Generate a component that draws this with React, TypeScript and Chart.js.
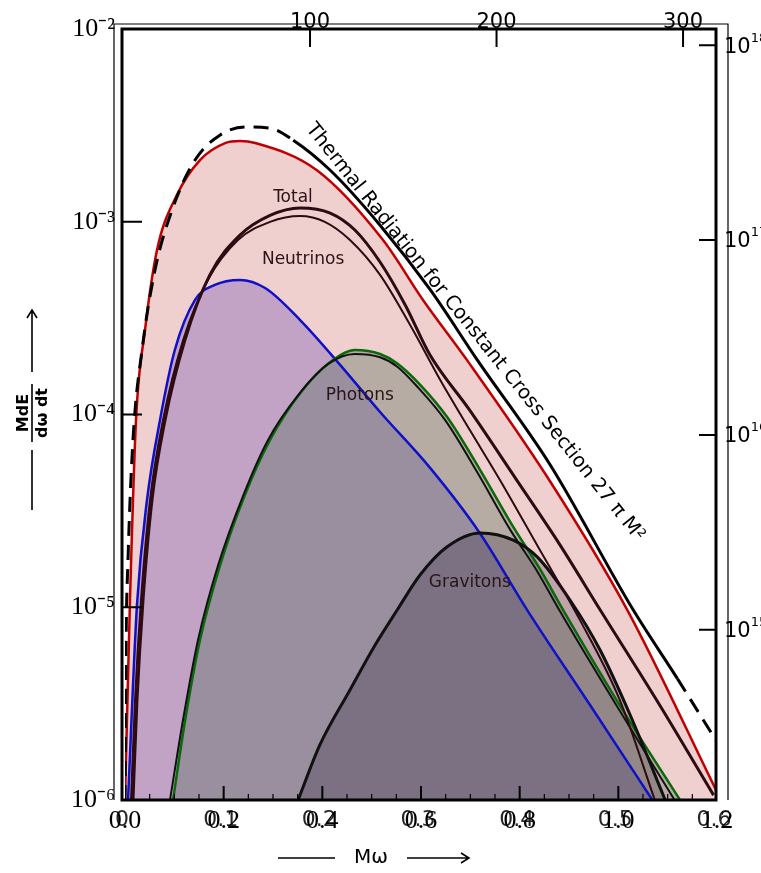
import React, { useEffect, useRef } from 'react';
import { Chart, registerables } from 'chart.js';
Chart.register(...registerables);

// ---- axes ----
const X_TICKS = [0, 0.2, 0.4, 0.6, 0.8, 1.0, 1.2];
const X_SCAN_LABELS = ['0', '0.1', '0.2', '0.3', '0.4', '0.5', '0.6'];
const X_MINOR = [0.05, 0.1, 0.15, 0.25, 0.3, 0.35, 0.45, 0.5, 0.55, 0.65, 0.7, 0.75, 0.85, 0.9, 0.95, 1.05, 1.1, 1.15];
const X_MAJOR_INNER = [0.2, 0.4, 0.6, 0.8, 1.0];
const Y_TICKS = [1e-6, 1e-5, 1e-4, 1e-3, 1e-2];
const Y_TICK_LABELS = ['10⁻⁶', '10⁻⁵', '10⁻⁴', '10⁻³', '10⁻²'];
const Y_INNER_TICKS = [1e-5, 1e-4, 1e-3];
const TOP_TICKS = [100, 200, 300];
const RIGHT_TICKS = [1e15, 1e16, 1e17, 1e18];
const RIGHT_EXP = ['15', '16', '17', '18'];

// ---- series (x = Mω axis units, y = M dE/dω dt) ----
const thermalX = [0, 0.002, 0.0061, 0.0162, 0.0345, 0.0608, 0.0953, 0.142, 0.193, 0.243, 0.294, 0.341, 0.416, 0.517, 0.619, 0.714, 0.862, 1.03, 1.12, 1.2];
const thermalY = [1e-6, 6.0e-6, 1.76e-5, 7.38e-5, 2.16e-4, 5.62e-4, 1.15e-3, 2.09e-3, 2.82e-3, 3.10e-3, 3.06e-3, 2.65e-3, 1.85e-3, 9.6e-4, 4.43e-4, 1.92e-4, 5.47e-5, 9.7e-6, 4.25e-6, 2.0e-6];

const redX = [0, 0.0101, 0.0223, 0.0405, 0.0649, 0.1054, 0.152, 0.203, 0.233, 0.264, 0.389, 0.523, 0.604, 0.693, 0.856, 1.018, 1.2];
const redY = [1e-6, 1.09e-5, 9.35e-5, 2.74e-4, 7.13e-4, 1.38e-3, 2.09e-3, 2.56e-3, 2.62e-3, 2.56e-3, 1.85e-3, 8.04e-4, 3.93e-4, 1.92e-4, 4.74e-5, 9.7e-6, 1.1e-6];

const totalX = [0.0162, 0.0243, 0.0365, 0.0547, 0.0811, 0.1216, 0.172, 0.233, 0.294, 0.355, 0.416, 0.466, 0.517, 0.568, 0.618, 0.699, 0.791, 0.882, 0.963, 1.084, 1.193];
const totalY = [1e-6, 3.3e-6, 1.09e-5, 3.6e-5, 9.35e-5, 2.44e-4, 5.3e-4, 8.53e-4, 1.08e-3, 1.18e-3, 1.11e-3, 9.06e-4, 6.18e-4, 3.7e-4, 2.04e-4, 1.05e-4, 4.69e-5, 2.1e-5, 9.7e-6, 3.1e-6, 1.06e-6];

const neutrinoX = [0.0122, 0.0203, 0.0324, 0.0507, 0.077, 0.118, 0.168, 0.229, 0.294, 0.355, 0.405, 0.456, 0.517, 0.578, 0.639, 0.699, 0.76, 0.841, 0.922, 1.003, 1.074];
const neutrinoY = [1e-6, 3.3e-6, 1.09e-5, 3.6e-5, 9.35e-5, 2.44e-4, 4.99e-4, 8.04e-4, 9.98e-4, 1.07e-3, 9.98e-4, 8.04e-4, 5.3e-4, 2.91e-4, 1.51e-4, 8.3e-5, 4.57e-5, 1.98e-5, 8.6e-6, 3.3e-6, 1e-6];

const blueX = [0.0061, 0.0243, 0.0446, 0.0709, 0.101, 0.142, 0.182, 0.233, 0.284, 0.355, 0.436, 0.517, 0.618, 0.719, 0.815, 0.943, 1.069];
const blueY = [1e-6, 1.03e-5, 3.6e-5, 9.35e-5, 2.16e-4, 3.93e-4, 4.7e-4, 4.99e-4, 4.53e-4, 3.09e-4, 1.81e-4, 1.03e-4, 5.3e-5, 2.43e-5, 9.7e-6, 3.1e-6, 1e-6];

const greenX = [0.0973, 0.122, 0.152, 0.193, 0.243, 0.294, 0.355, 0.416, 0.466, 0.517, 0.552, 0.598, 0.653, 0.72, 0.787, 0.841, 0.888, 1.003, 1.125];
const greenY = [1e-6, 2.6e-6, 6.76e-6, 1.66e-5, 3.82e-5, 7.38e-5, 1.29e-4, 1.87e-4, 2.16e-4, 2.06e-4, 1.84e-4, 1.43e-4, 9.7e-5, 5.15e-5, 2.61e-5, 1.58e-5, 9.7e-6, 3.1e-6, 1e-6];

const photonX = [0.0912, 0.1176, 0.148, 0.189, 0.24, 0.29, 0.351, 0.412, 0.466, 0.517, 0.552, 0.594, 0.649, 0.714, 0.781, 0.836, 0.882, 0.996, 1.114];
const photonY = [1e-6, 2.6e-6, 6.76e-6, 1.66e-5, 3.82e-5, 7.38e-5, 1.26e-4, 1.83e-4, 2.06e-4, 1.98e-4, 1.77e-4, 1.38e-4, 9.35e-5, 5.02e-5, 2.52e-5, 1.53e-5, 9.5e-6, 3.1e-6, 1e-6];

const gravX = [0.351, 0.395, 0.456, 0.507, 0.552, 0.598, 0.653, 0.72, 0.787, 0.836, 0.902, 0.963, 1.024, 1.095];
const gravY = [1e-6, 1.93e-6, 3.72e-6, 6.37e-6, 9.7e-6, 1.47e-5, 2.06e-5, 2.43e-5, 2.23e-5, 1.82e-5, 1.09e-5, 6.0e-6, 2.76e-6, 1e-6];

// ---- text annotations (data coordinates) ----
const NOTES = [
  { text: 'Total', x: 0.3405, y: 1.34e-3 },
  { text: 'Neutrinos', x: 0.361, y: 6.34e-4 },
  { text: 'Photons', x: 0.476, y: 1.26e-4 },
  { text: 'Gravitons', x: 0.699, y: 1.34e-5 },
];
const THERMAL_TEXT = 'Thermal Radiation for Constant Cross Section 27 π M²';
const THERMAL_POS = { x: 0.7, y: 2.55e-4 };

const pts = (xs: number[], ys: number[]) => xs.map((x, i) => ({ x, y: ys[i] }));

const SANS = '"DejaVu Sans", "Noto Sans", sans-serif';
const SERIF = '"Liberation Serif", "Times New Roman", serif';

const overlayPlugin = {
  id: 'overlay',
  afterDatasetsDraw(chart: any) {
    const { ctx, chartArea: a, scales } = chart;
    const sx = scales.x, sy = scales.y, sx2 = scales.x2, sy2 = scales.y2;
    ctx.save();
    ctx.strokeStyle = '#000';
    ctx.fillStyle = '#000';

    // thin outer frame
    ctx.lineWidth = 1.2;
    ctx.beginPath();
    ctx.moveTo(a.left - 11, a.bottom);
    ctx.lineTo(a.left - 11, a.top - 5);
    ctx.lineTo(a.right + 11, a.top - 5);
    ctx.lineTo(a.right + 11, a.bottom);
    ctx.stroke();

    // thick frame
    ctx.lineWidth = 3;
    ctx.strokeRect(a.left - 3, a.top, a.right - a.left + 2, a.bottom - a.top);

    // inner ticks
    ctx.lineWidth = 2;
    ctx.beginPath();
    X_MAJOR_INNER.forEach((v) => {
      const px = sx.getPixelForValue(v);
      ctx.moveTo(px, a.bottom); ctx.lineTo(px, a.bottom - 14);
    });
    Y_INNER_TICKS.forEach((v) => {
      const py = sy.getPixelForValue(v);
      ctx.moveTo(a.left - 3, py); ctx.lineTo(a.left + 17, py);
    });
    TOP_TICKS.forEach((v) => {
      const px = sx2.getPixelForValue(v);
      ctx.moveTo(px, a.top); ctx.lineTo(px, a.top + 18);
    });
    RIGHT_TICKS.forEach((v) => {
      const py = sy2.getPixelForValue(v);
      ctx.moveTo(a.right, py); ctx.lineTo(a.right - 18, py);
    });
    ctx.stroke();
    ctx.lineWidth = 1.2;
    ctx.beginPath();
    X_MINOR.forEach((v) => {
      const px = sx.getPixelForValue(v);
      ctx.moveTo(px, a.bottom); ctx.lineTo(px, a.bottom - 6);
    });
    ctx.stroke();

    // top labels
    ctx.font = `21px ${SANS}`;
    ctx.textAlign = 'center';
    ctx.textBaseline = 'alphabetic';
    TOP_TICKS.forEach((v) => {
      ctx.fillText(String(v), sx2.getPixelForValue(v), a.top - 1);
    });

    // right labels
    RIGHT_TICKS.forEach((v, i) => {
      const py = sy2.getPixelForValue(v);
      ctx.textAlign = 'left';
      ctx.textBaseline = 'middle';
      ctx.font = `21px ${SANS}`;
      ctx.fillText('10', a.right + 7, py + 2);
      const w = ctx.measureText('10').width;
      ctx.font = `13px ${SANS}`;
      ctx.fillText(RIGHT_EXP[i], a.right + 7 + w, py - 7);
    });

    // scanned-style bottom labels (overprinted on the chart labels)
    ctx.font = `22px ${SANS}`;
    ctx.textAlign = 'center';
    ctx.textBaseline = 'middle';
    ctx.globalAlpha = 0.85;
    X_TICKS.forEach((v, i) => {
      ctx.fillText(X_SCAN_LABELS[i], sx.getPixelForValue(v) - 3, a.bottom + 20);
    });
    ctx.globalAlpha = 1;

    // curve annotations
    ctx.fillStyle = '#2a1418';
    ctx.font = `17px ${SANS}`;
    NOTES.forEach((n) => {
      ctx.fillText(n.text, sx.getPixelForValue(n.x), sy.getPixelForValue(n.y));
    });

    // thermal text, rotated
    ctx.fillStyle = '#000';
    const tx = sx.getPixelForValue(THERMAL_POS.x);
    const ty = sy.getPixelForValue(THERMAL_POS.y);
    ctx.save();
    ctx.translate(tx, ty);
    ctx.rotate((51.3 * Math.PI) / 180);
    let size = 20;
    ctx.font = `${size}px ${SANS}`;
    const target = 530;
    size = Math.max(12, Math.min(24, (size * target) / ctx.measureText(THERMAL_TEXT).width));
    ctx.font = `${size}px ${SANS}`;
    ctx.textAlign = 'center';
    ctx.textBaseline = 'middle';
    ctx.fillText(THERMAL_TEXT, 0, -6);
    ctx.restore();

    // bottom axis title
    const by = a.bottom + 58;
    ctx.lineWidth = 1.6;
    ctx.beginPath();
    ctx.moveTo(278, by); ctx.lineTo(335, by);
    ctx.moveTo(407, by); ctx.lineTo(469, by);
    ctx.moveTo(461, by - 5); ctx.lineTo(469, by); ctx.lineTo(461, by + 5);
    ctx.stroke();
    ctx.font = `20px ${SANS}`;
    ctx.textAlign = 'center';
    ctx.textBaseline = 'middle';
    ctx.fillText('Mω', 371, by);

    // left axis title (rotated)
    ctx.save();
    ctx.translate(32, 412);
    ctx.rotate(-Math.PI / 2);
    ctx.lineWidth = 1.6;
    ctx.beginPath();
    ctx.moveTo(-30, 0); ctx.lineTo(28, 0);
    ctx.moveTo(-98, 0); ctx.lineTo(-38, 0);
    ctx.moveTo(40, 0); ctx.lineTo(102, 0);
    ctx.moveTo(94, -5); ctx.lineTo(102, 0); ctx.lineTo(94, 5);
    ctx.stroke();
    ctx.font = `bold 16px ${SANS}`;
    ctx.textAlign = 'center';
    ctx.textBaseline = 'alphabetic';
    ctx.fillText('MdE', -1, -4);
    ctx.textBaseline = 'top';
    ctx.fillText('dω dt', -1, 3);
    ctx.restore();

    ctx.restore();
  },
};

export default function App() {
  const ref = useRef<HTMLCanvasElement>(null);
  useEffect(() => {
    const canvas = ref.current!;
    const line = { pointRadius: 0, pointHoverRadius: 0, cubicInterpolationMode: 'monotone' as const };
    const chart = new Chart(canvas, {
      type: 'line',
      data: {
        datasets: [
          {
            label: 'Thermal', data: pts(thermalX, thermalY), borderColor: '#000', borderWidth: 3, fill: false,
            segment: { borderDash: (c: any) => (c.p0.parsed.x < 0.33 || c.p0.parsed.x >= 1.1 ? [15, 9] : undefined) },
            ...line,
          },
          { label: 'Total', data: pts(totalX, totalY), borderColor: '#2e0a12', borderWidth: 3, fill: false, ...line },
          { label: 'Neutrinos', data: pts(neutrinoX, neutrinoY), borderColor: '#2e0a12', borderWidth: 2, fill: false, ...line },
          { label: 'PhotonScan', data: pts(photonX, photonY), borderColor: '#111', borderWidth: 2, fill: false, ...line },
          { label: 'Gravitons', data: pts(gravX, gravY), borderColor: '#111', borderWidth: 3, backgroundColor: 'rgba(20,10,30,0.22)', fill: 'start', ...line },
          { label: 'Green', data: pts(greenX, greenY), borderColor: '#0a6a0a', borderWidth: 2.5, backgroundColor: 'rgba(65,100,75,0.32)', fill: 'start', ...line },
          { label: 'Blue', data: pts(blueX, blueY), borderColor: '#1010c8', borderWidth: 2.5, backgroundColor: 'rgba(60,40,170,0.26)', fill: 'start', ...line },
          { label: 'Red', data: pts(redX, redY), borderColor: '#c00000', borderWidth: 2.5, backgroundColor: 'rgba(185,35,35,0.22)', fill: 'start', ...line },
        ],
      },
      options: {
        responsive: false,
        animation: false,
        events: [],
        layout: { padding: { top: 29, right: 44, left: 0, bottom: 0 } },
        plugins: {
          legend: { display: false },
          tooltip: { enabled: false },
          filler: { drawTime: 'beforeDatasetsDraw' },
        },
        scales: {
          x: {
            type: 'linear', position: 'bottom', min: 0, max: 1.2,
            afterBuildTicks: (s: any) => { s.ticks = X_TICKS.map((v) => ({ value: v })); },
            afterFit: (s: any) => { s.height = 73; },
            ticks: {
              callback: (v: any) => Number(v).toFixed(1),
              font: { family: SERIF, size: 26 }, color: '#000', padding: 6, maxRotation: 0, autoSkip: false,
            },
            grid: { display: false, drawTicks: false },
            border: { display: false },
          },
          y: {
            type: 'logarithmic', position: 'left', min: 1e-6, max: 1e-2,
            afterBuildTicks: (s: any) => { s.ticks = Y_TICKS.map((v) => ({ value: v })); },
            afterFit: (s: any) => { s.width = 125; },
            ticks: {
              callback: (_v: any, i: number) => Y_TICK_LABELS[i],
              font: { family: SERIF, size: 26 }, color: '#000', padding: 10, autoSkip: false,
            },
            grid: { display: false, drawTicks: false },
            border: { display: false },
          },
          x2: { type: 'linear', position: 'top', min: 0.8, max: 318.2, display: false },
          y2: { type: 'logarithmic', position: 'right', min: 1.34e14, max: 1.21e18, display: false },
        },
      },
      plugins: [overlayPlugin],
    } as any);
    return () => chart.destroy();
  }, []);
  return (
    <canvas
      ref={ref}
      width={761}
      height={873}
      style={{ position: 'absolute', left: 0, top: 0, width: 761, height: 873, background: '#fff' }}
    />
  );
}
